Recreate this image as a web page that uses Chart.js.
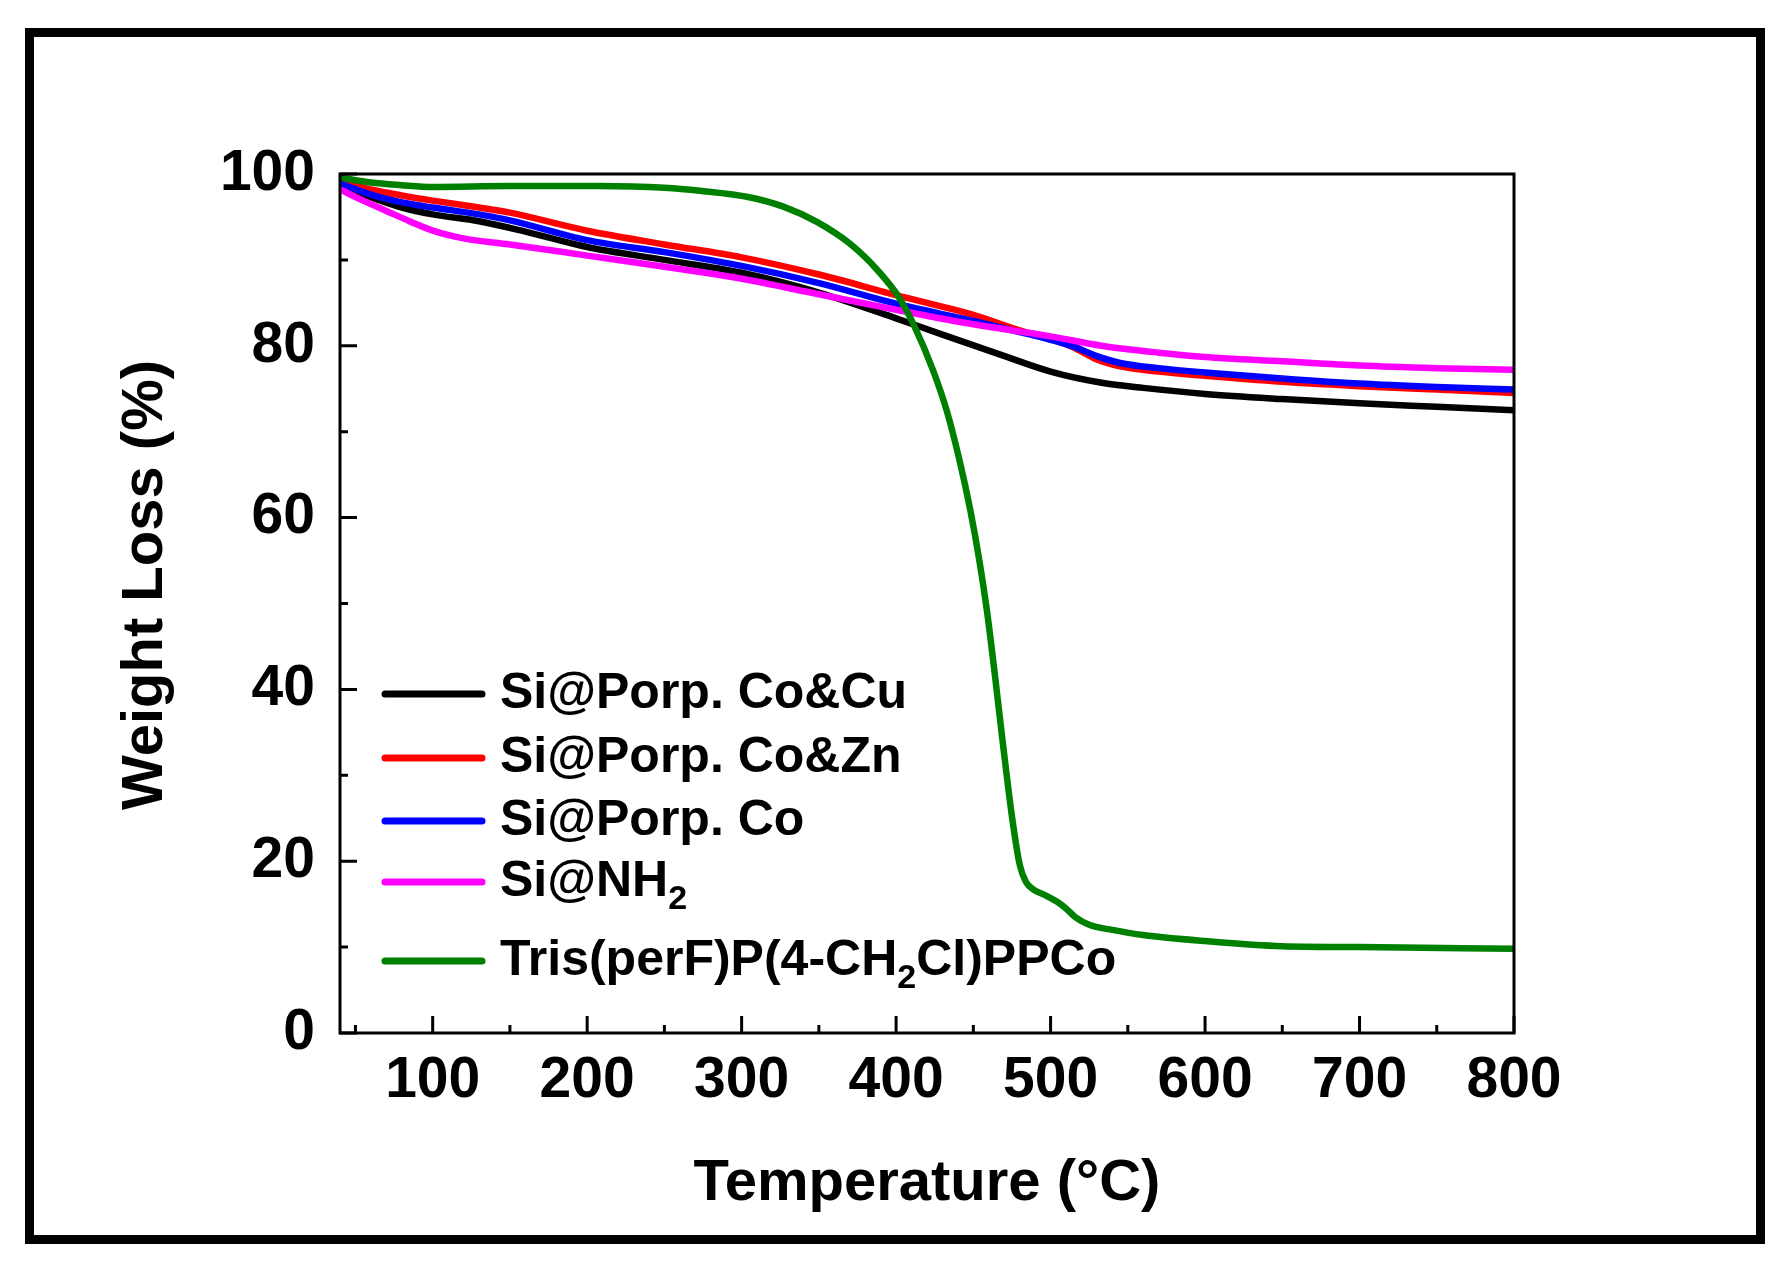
<!DOCTYPE html>
<html><head><meta charset="utf-8">
<script src="https://cdn.jsdelivr.net/npm/chart.js@4"></script>
<style>html,body{margin:0;padding:0;background:#fff}canvas{display:block}</style>
</head><body>
<canvas id="c" width="1790" height="1275"></canvas>
<script>
const FONT = '"Liberation Sans", Arial, Helvetica, sans-serif';

// ---- data ----
const seriesLabels = ['Si@Porp. Co&Cu', 'Si@Porp. Co&Zn', 'Si@Porp. Co', 'Si@NH₂', 'Tris(perF)P(4-CH₂Cl)PPCo'];
const legendLabels = ['Si@Porp. Co&Cu', 'Si@Porp. Co&Zn', 'Si@Porp. Co', 'Si@NH_2', 'Tris(perF)P(4-CH_2Cl)PPCo'];
const seriesColors = ['#000000', '#ff0000', '#0000ff', '#ff00ff', '#008000'];

const tempCoCu = [40, 60, 80, 100, 130, 160, 200, 250, 300, 350, 400, 430, 467, 500, 533, 560, 600, 650, 700, 750, 800];
const wCoCu    = [98.8, 97.3, 96.1, 95.3, 94.5, 93.3, 91.5, 90.0, 88.5, 86.2, 83.2, 81.3, 79.0, 77.0, 75.7, 75.1, 74.4, 73.8, 73.3, 72.9, 72.5];

const tempCoZn = [40, 60, 80, 100, 130, 150, 200, 250, 300, 350, 400, 450, 480, 500, 515, 530, 545, 570, 600, 650, 700, 750, 800];
const wCoZn    = [99.2, 98.2, 97.5, 96.9, 96.1, 95.5, 93.4, 91.8, 90.3, 88.3, 85.9, 83.6, 81.8, 80.8, 79.8, 78.4, 77.6, 77.0, 76.5, 75.8, 75.3, 74.9, 74.5];

const tempCo = [40, 60, 80, 100, 130, 150, 200, 250, 300, 350, 400, 450, 480, 500, 515, 530, 545, 570, 600, 650, 700, 750, 800];
const wCo    = [98.9, 97.6, 96.7, 96.1, 95.3, 94.6, 92.3, 90.9, 89.3, 87.3, 84.9, 82.9, 81.6, 80.7, 79.9, 78.8, 78.0, 77.4, 76.9, 76.2, 75.6, 75.2, 74.9];

const tempNH2 = [40, 55, 70, 85, 100, 120, 150, 200, 250, 300, 350, 400, 450, 500, 533, 570, 600, 650, 700, 750, 800];
const wNH2    = [98.2, 96.9, 95.7, 94.5, 93.4, 92.5, 91.8, 90.5, 89.2, 87.8, 86.0, 84.2, 82.5, 81.1, 80.0, 79.2, 78.7, 78.2, 77.7, 77.4, 77.2];

const tempPPCo = [40, 60, 80, 100, 150, 208, 250, 273, 305, 327, 349, 370, 388, 402, 411, 424, 433, 441, 448, 454, 459, 464, 469, 475, 480, 484, 489, 497, 504, 510, 516, 525, 540, 560, 600, 650, 700, 800];
const wPPCo    = [99.6, 99.0, 98.7, 98.5, 98.6, 98.6, 98.4, 98.05, 97.3, 96.2, 94.4, 91.9, 88.8, 85.6, 82.6, 77.1, 72.3, 66.7, 60.9, 54.9, 48.9, 41.6, 33.9, 25.2, 19.6, 17.6, 16.7, 16.0, 15.3, 14.5, 13.5, 12.6, 12.0, 11.4, 10.7, 10.1, 10.0, 9.8];

const seriesTemps   = [tempCoCu, tempCoZn, tempCo, tempNH2, tempPPCo];
const seriesWeights = [wCoCu, wCoZn, wCo, wNH2, wPPCo];

const xTickValues  = [100, 200, 300, 400, 500, 600, 700, 800];
const xMinorTicks  = [50, 150, 250, 350, 450, 550, 650, 750];
const yTickValues  = [0, 20, 40, 60, 80, 100];
const yMinorTicks  = [10, 30, 50, 70, 90];
const xTitle = 'Temperature (°C)';
const yTitle = 'Weight Loss (%)';

// ---- layout constants ----
const legendRowsY = [694, 758, 821, 882, 961];

const decor = {
  id: 'decor',
  beforeDraw(chart) {
    const ctx = chart.ctx;
    ctx.save();
    ctx.fillStyle = '#ffffff';
    ctx.fillRect(0, 0, chart.width, chart.height);
    ctx.restore();
  },
  afterDatasetsDraw(chart) {
    const {ctx, chartArea: a, scales: {x, y}} = chart;
    ctx.save();
    ctx.strokeStyle = '#000';
    ctx.lineWidth = 3;
    ctx.lineCap = 'butt';
    ctx.strokeRect(a.left, a.top, a.right - a.left, a.bottom - a.top);
    ctx.beginPath();
    xTickValues.forEach(v => { const p = x.getPixelForValue(v); ctx.moveTo(p, a.bottom); ctx.lineTo(p, a.bottom - 17); });
    xMinorTicks.forEach(v => { const p = x.getPixelForValue(v); ctx.moveTo(p, a.bottom); ctx.lineTo(p, a.bottom - 8); });
    yTickValues.forEach(v => { const p = y.getPixelForValue(v); ctx.moveTo(a.left, p); ctx.lineTo(a.left + 17, p); });
    yMinorTicks.forEach(v => { const p = y.getPixelForValue(v); ctx.moveTo(a.left, p); ctx.lineTo(a.left + 8, p); });
    ctx.stroke();

    // outer frame
    ctx.lineWidth = 9;
    ctx.strokeRect(29.5, 32.5, 1731, 1207);

    // y title
    ctx.save();
    ctx.translate(146, 585);
    ctx.rotate(-Math.PI / 2);
    ctx.textAlign = 'center';
    ctx.textBaseline = 'middle';
    ctx.fillStyle = '#000';
    ctx.font = `bold 58px ${FONT}`;
    ctx.fillText(yTitle, 0, 0);
    ctx.restore();

    // legend
    chart.data.datasets.forEach((ds, i) => {
      const ly = legendRowsY[i];
      ctx.beginPath();
      ctx.strokeStyle = ds.borderColor;
      ctx.lineWidth = 7;
      ctx.lineCap = 'round';
      ctx.moveTo(385, ly);
      ctx.lineTo(482, ly);
      ctx.stroke();
      let tx = 500;
      ctx.fillStyle = '#000';
      ctx.textAlign = 'left';
      ctx.textBaseline = 'middle';
      const parts = legendLabels[i].split(/_(\d)/);
      parts.forEach((p, k) => {
        if (!p) return;
        const sub = k % 2 === 1;
        ctx.font = sub ? `bold 34px ${FONT}` : `bold 50px ${FONT}`;
        ctx.fillText(p, tx, sub ? ly + 18 : ly);
        tx += ctx.measureText(p).width;
      });
    });
    ctx.restore();
  }
};

const datasets = seriesLabels.map((lab, i) => ({
  label: lab,
  data: seriesTemps[i].map((t, k) => ({x: t, y: seriesWeights[i][k]})),
  borderColor: seriesColors[i],
  backgroundColor: seriesColors[i],
  borderWidth: 6.5,
  pointRadius: 0,
  fill: false,
  cubicInterpolationMode: 'monotone',
  order: i === 4 ? 0 : 5 - i
}));

new Chart(document.getElementById('c'), {
  type: 'line',
  data: {datasets},
  options: {
    responsive: false,
    animation: false,
    devicePixelRatio: 1,
    layout: {padding: {top: 174, right: 276, left: 0, bottom: 0}},
    plugins: {legend: {display: false}, tooltip: {enabled: false}},
    scales: {
      x: {
        type: 'linear', min: 40, max: 800,
        afterBuildTicks: s => { s.ticks = xTickValues.map(v => ({value: v})); },
        afterFit: s => { s.height = 242; },
        grid: {display: false, drawTicks: false},
        border: {display: false},
        ticks: {color: '#000', padding: 14, maxRotation: 0, autoSkip: false,
          font: {family: FONT, size: 57, weight: 'bold'}},
        title: {display: true, text: xTitle, color: '#000',
          font: {family: FONT, size: 58, weight: 'bold', lineHeight: 1}, padding: {top: 0, bottom: 62}}
      },
      y: {
        type: 'linear', min: 0, max: 100,
        afterBuildTicks: s => { s.ticks = yTickValues.map(v => ({value: v})); },
        afterFit: s => { s.width = 340; },
        grid: {display: false, drawTicks: false},
        border: {display: false},
        ticks: {color: '#000', padding: 25, autoSkip: false,
          font: {family: FONT, size: 57, weight: 'bold'}},
        title: {display: false}
      }
    }
  },
  plugins: [decor]
});
</script>
</body></html>
